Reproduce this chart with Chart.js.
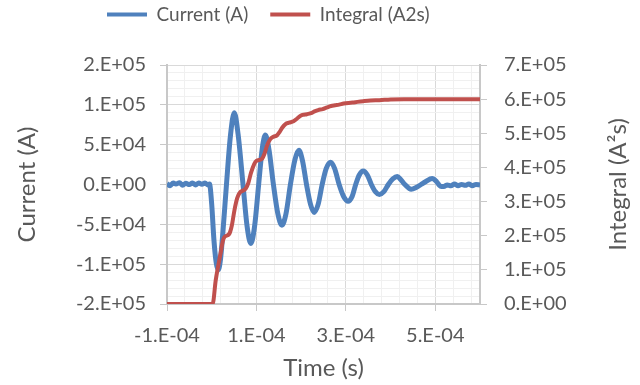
<!DOCTYPE html>
<html>
<head>
<meta charset="utf-8">
<script src="https://cdn.jsdelivr.net/npm/chart.js@4.4.0/dist/chart.umd.min.js"></script>
<style>
  html, body { margin: 0; padding: 0; background: #fff; }
  #wrap { width: 640px; height: 385px; position: relative; }
</style>
</head>
<body>
<div id="wrap"><canvas id="chart"></canvas></div>
<script>
// Series names
const seriesNames = ['Current (A)', 'Integral (A2s)'];
const rightTitle = 'Integral (A\u00B2s)';

// Current trace: time (s) and current (A)
const currentTime = [
  -10e-5, -9.3e-5, -8.6e-5, -8.0e-5, -7.2e-5, -6.5e-5, -5.8e-5, -5.0e-5, -4.3e-5, -3.6e-5,
  -2.9e-5, -2.2e-5, -1.5e-5, -0.9e-5, -0.5e-5, 0.0e-5, 0.5e-5, 1.0e-5, 1.45e-5, 1.9e-5,
  2.5e-5, 3.3e-5, 4.2e-5, 5.05e-5, 5.9e-5, 7.0e-5, 7.9e-5, 8.75e-5, 9.6e-5, 10.5e-5,
  11.3e-5, 12.0e-5, 12.8e-5, 13.8e-5, 14.8e-5, 15.7e-5, 16.6e-5, 17.6e-5, 18.6e-5, 19.5e-5,
  20.3e-5, 21.2e-5, 22.1e-5, 22.9e-5, 23.8e-5, 24.7e-5, 25.6e-5, 26.6e-5, 27.5e-5, 28.5e-5,
  29.5e-5, 30.5e-5, 31.4e-5, 32.2e-5, 33.0e-5, 33.9e-5, 34.8e-5, 35.7e-5, 36.6e-5, 37.5e-5,
  38.5e-5, 39.5e-5, 40.5e-5, 41.5e-5, 42.3e-5, 43.2e-5, 44.6e-5, 45.8e-5, 46.8e-5, 47.8e-5,
  49.3e-5, 50.3e-5, 51.1e-5, 51.9e-5, 52.7e-5, 53.5e-5, 54.3e-5, 55.1e-5, 55.9e-5, 56.7e-5,
  57.5e-5, 58.3e-5, 59.1e-5, 60.0e-5
];
const currentValues = [
  1000, -1500, 2000, 500, 2200, -1000, 1500, 0, 2000, -500,
  1800, 200, 2000, -500, 500, -25000, -70000, -98000, -107000, -97000,
  -60000, 0, 62000, 90000, 63000, 0, -52000, -74000, -52000, 0,
  45000, 62000, 44000, 0, -37000, -51000, -37000, 0, 31000, 43000,
  30000, 0, -25000, -35000, -25000, 0, 20000, 28000, 20000, 0,
  -15000, -21000, -15000, 0, 12000, 17000, 12000, 0, -9000, -12500,
  -9000, 0, 7000, 10000, 6000, 0, -6000, -3500, 0, 3500,
  7500, 3500, -2000, -2500, -500, -1500, 500, -1500, 0, -1000,
  500, -1500, 0, -500
];

// Integral trace: time (s) and integral of I^2 (A^2 s)
const integralTime = [
  -10e-5, 0.2e-5, 0.9e-5, 1.5e-5, 2.0e-5, 2.5e-5, 2.9e-5, 3.9e-5, 4.5e-5, 5.1e-5,
  5.7e-5, 6.2e-5, 7.6e-5, 8.2e-5, 8.8e-5, 9.5e-5, 10.0e-5, 11.3e-5, 11.8e-5, 12.4e-5,
  13.1e-5, 13.8e-5, 14.6e-5, 15.2e-5, 15.8e-5, 16.5e-5, 17.3e-5, 18.3e-5, 18.9e-5, 19.6e-5,
  20.3e-5, 21.3e-5, 22.2e-5, 23.0e-5, 23.8e-5, 24.8e-5, 25.8e-5, 26.7e-5, 27.6e-5, 28.5e-5,
  29.5e-5, 30.6e-5, 31.5e-5, 32.6e-5, 33.9e-5, 35.5e-5, 37.5e-5, 40.0e-5, 43.0e-5, 50.0e-5,
  60.0e-5
];
const integralValues = [
  0, 0, 70000, 115000, 150000, 185000, 197000, 205000, 230000, 276000,
  310000, 325000, 338000, 355000, 385000, 410000, 419000, 426000, 440000, 465000,
  483000, 490000, 494000, 504000, 517000, 527000, 531000, 535000, 541000, 549000,
  554000, 556000, 559000, 564000, 568000, 571000, 576000, 580000, 582000, 584000,
  587000, 589000, 590000, 592000, 594000, 596000, 597000, 599000, 600000, 600000,
  600000
];

// Axis settings
const xMin = -1e-4, xMax = 6e-4, xMajor = 2e-4, xMinor = 4e-5;
const yMin = -1.5e5, yMax = 1.5e5, yMajor = 5e4, yMinor = 1e4;
const y2Min = 0, y2Max = 7e5, y2Step = 1e5;

const textColor = '#595959';
const majorGrid = '#d9d9d9';
const minorGrid = '#f0f0f0';
const axisColor = '#c8c8c8';
const fontFamily = 'Lato';
const titleSize = 24;

Chart.defaults.font.family = fontFamily;
Chart.defaults.color = textColor;

// Excel style "0.E+00"
function sci(v) {
  if (Math.abs(v) < 1e-12) return '0.E+00';
  let e = Math.floor(Math.log10(Math.abs(v)));
  let m = Math.round(Math.abs(v) / Math.pow(10, e));
  if (m >= 10) { m = 1; e += 1; }
  const sign = v < 0 ? '-' : '';
  return sign + m + '.E' + (e < 0 ? '-' : '+') + String(Math.abs(e)).padStart(2, '0');
}

function onStep(v, start, step) {
  const k = (v - start) / step;
  return Math.abs(k - Math.round(k)) < 1e-6;
}

function buildTicks(scale, start, end, step) {
  const t = [];
  for (let v = start; v <= end + step * 1e-6; v += step) t.push({ value: +v.toPrecision(8) });
  scale.ticks = t;
}

const gridColor = (start, step) => ctx => (ctx.tick && onStep(ctx.tick.value, start, step)) ? majorGrid : minorGrid;
const tickColor = (start, step) => ctx => (ctx.tick && onStep(ctx.tick.value, start, step)) ? axisColor : 'rgba(0,0,0,0)';

// legend sizing and placement
const legendPlacer = {
  id: 'legendPlacer',
  afterInit(chart) {
    const lg = chart.legend;
    const fit = lg.fit.bind(lg);
    lg.fit = function () { fit(); this.height = 65; };
  },
  afterLayout(chart) {
    const lg = chart.legend;
    const pad = lg.options.labels.padding;
    const dx = 107 - pad - lg.left;
    lg.left += dx; lg.right += dx;
    lg.top = 14 - pad - 9;
  }
};

// right axis title reads bottom-to-top like the left one
const rightTitlePlugin = {
  id: 'rightTitle',
  afterDraw(chart) {
    const { ctx, chartArea } = chart;
    ctx.save();
    ctx.translate(chart.width - 22, (chartArea.top + chartArea.bottom) / 2);
    ctx.rotate(-Math.PI / 2);
    ctx.font = titleSize + 'px ' + fontFamily;
    ctx.fillStyle = textColor;
    ctx.textAlign = 'center';
    ctx.textBaseline = 'middle';
    ctx.fillText(rightTitle, 0, 0);
    ctx.restore();
  }
};

new Chart(document.getElementById('chart'), {
  type: 'line',
  data: {
    datasets: [
      {
        label: seriesNames[0],
        data: currentTime.map((t, i) => ({ x: t, y: currentValues[i] })),
        borderColor: '#4f81bd',
        backgroundColor: '#4f81bd',
        borderWidth: 5,
        pointRadius: 0,
        cubicInterpolationMode: 'monotone',
        borderJoinStyle: 'round',
        yAxisID: 'y',
        order: 1
      },
      {
        label: seriesNames[1],
        data: integralTime.map((t, i) => ({ x: t, y: integralValues[i] })),
        borderColor: '#c0504d',
        backgroundColor: '#c0504d',
        borderWidth: 4,
        pointRadius: 0,
        cubicInterpolationMode: 'monotone',
        borderJoinStyle: 'round',
        yAxisID: 'y1',
        order: 0
      }
    ]
  },
  options: {
    responsive: true,
    maintainAspectRatio: false,
    animation: false,
    events: [],
    layout: { padding: 0 },
    plugins: {
      tooltip: { enabled: false },
      legend: {
        position: 'top',
        align: 'start',
        labels: {
          boxWidth: 40,
          boxHeight: 4,
          padding: 22,
          font: { size: 19 },
          color: textColor,
          sort: (a, b) => a.datasetIndex - b.datasetIndex,
          generateLabels(chart) {
            return Chart.defaults.plugins.legend.labels.generateLabels(chart)
              .map(l => Object.assign(l, { lineWidth: 0, fillStyle: l.strokeStyle }));
          }
        }
      }
    },
    scales: {
      x: {
        type: 'linear',
        min: xMin,
        max: xMax,
        afterBuildTicks: s => buildTicks(s, xMin, xMax, xMinor),
        afterFit: s => { s.height = 81; },
        ticks: {
          autoSkip: false,
          maxRotation: 0,
          padding: 13,
          font: { size: 20 },
          callback: v => onStep(v, xMin, xMajor) ? sci(v) : ''
        },
        grid: { color: gridColor(xMin, xMajor), tickColor: tickColor(xMin, xMajor), tickLength: 7 },
        border: { color: axisColor, width: 2 },
        title: { display: true, text: 'Time (s)', font: { size: titleSize }, padding: { bottom: 2 } }
      },
      y: {
        position: 'left',
        min: yMin,
        max: yMax,
        afterBuildTicks: s => buildTicks(s, yMin, yMax, yMinor),
        afterFit: s => { s.width = 167; },
        ticks: {
          autoSkip: false,
          padding: 14,
          font: { size: 20 },
          callback: v => onStep(v, yMin, yMajor) ? sci(v) : ''
        },
        grid: { color: gridColor(yMin, yMajor), tickColor: tickColor(yMin, yMajor), tickLength: 7 },
        border: { color: axisColor, width: 2 },
        title: { display: true, text: 'Current (A)', font: { size: titleSize }, padding: { top: 13 } }
      },
      y1: {
        position: 'right',
        min: y2Min,
        max: y2Max,
        afterFit: s => { s.width = 160; },
        ticks: {
          stepSize: y2Step,
          autoSkip: false,
          padding: 17,
          font: { size: 20 },
          callback: v => sci(v)
        },
        grid: { drawOnChartArea: false, tickColor: axisColor, tickLength: 7 },
        border: { color: axisColor, width: 2 }
      }
    }
  },
  plugins: [legendPlacer, rightTitlePlugin]
});
</script>
</body>
</html>
